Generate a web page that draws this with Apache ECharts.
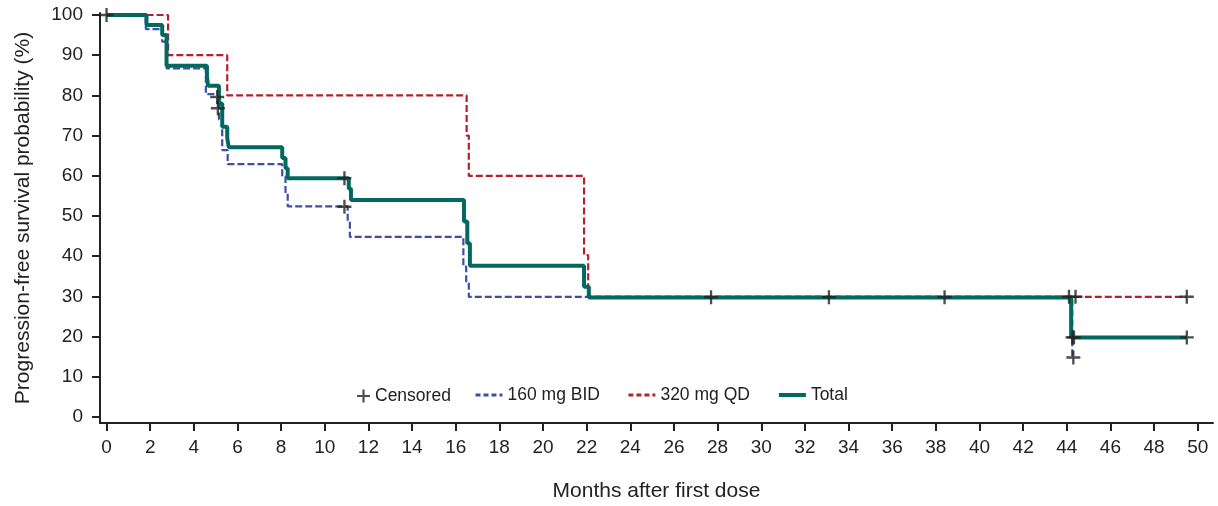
<!DOCTYPE html>
<html>
<head>
<meta charset="utf-8">
<script src="https://cdn.jsdelivr.net/npm/echarts@6/dist/echarts.min.js"></script>
<style>html,body{margin:0;padding:0;background:#fff}#c{width:1218px;height:506px}</style>
</head>
<body>
<div id="c"></div>
<script>
// Kaplan-Meier step points [month, survival %]
const totalSteps = [[0,100],[1.83,97.5],[2.55,95],[2.75,87.4],[4.6,84.8],[4.65,82.4],[5.15,78],[5.3,72.2],[5.53,69.4],[5.6,67.1],[8.05,64.4],[8.2,61.9],[8.3,59.4],[11.1,56.8],[11.2,54],[16.38,48.6],[16.53,43.2],[16.65,37.6],[21.88,32.4],[22.1,29.7],[44.2,19.8],[49.5,19.8]];
const bidSteps = [[0,100],[1.8,96.5],[2.55,93.4],[2.75,86.7],[4.55,80.3],[5.15,74],[5.3,66.4],[5.55,62.9],[8.05,59.8],[8.2,55.6],[8.3,52.4],[11.05,48.6],[11.15,44.8],[16.35,37.4],[16.48,33.7],[16.6,29.9],[44.25,14.8],[44.3,14.8]];
const qdSteps = [[0,100],[2.82,90],[5.53,80],[16.5,70],[16.6,60],[21.88,40.3],[22.07,29.9],[49.5,29.9]];
const censored = [[0,100],[5.07,79.6],[5.1,76.8],[10.9,59.4],[10.9,52.3],[27.7,29.8],[33.1,29.8],[38.4,29.8],[44.1,29.9],[44.4,29.9],[44.26,19.8],[44.33,19.8],[44.3,14.8],[49.5,29.9],[49.5,19.8]];
const xTicks = [0,2,4,6,8,10,12,14,16,18,20,22,24,26,28,30,32,34,36,38,40,42,44,46,48,50];
const yTicks = [0,10,20,30,40,50,60,70,80,90,100];

const FONT = 'Liberation Sans, Arial, sans-serif';
const AX = '#222';
const plus = 'path://M5,0H7V5H12V7H7V12H5V7H0V5H5Z';
const BLUE = '#3F4DA8', RED = '#B51F2E', GREEN = '#03695E';

const chart = echarts.init(document.getElementById('c'));
chart.setOption({
  animation: false,
  backgroundColor: '#fff',
  textStyle: {fontFamily: FONT},
  grid: {left: 100, right: 5, top: 13, bottom: 83, outerBoundsMode: 'none', containLabel: false},
  legend: [
    {data: ['Censored'], left: 352, top: 382, itemWidth: 13, itemHeight: 13, itemGap: 28,
     textStyle: {fontSize: 17.5, color: AX, fontFamily: FONT}},
    {data: [
       {name: '160 mg BID', lineStyle: {width: 3, type: [5, 3], color: BLUE}},
       {name: '320 mg QD', lineStyle: {width: 3, type: [5, 3], color: RED}},
       {name: 'Total', lineStyle: {width: 4, color: GREEN}}],
     left: 469, top: 381, itemWidth: 27, itemHeight: 14, itemGap: 27,
     itemStyle: {opacity: 0},
     textStyle: {fontSize: 17.5, color: AX, fontFamily: FONT}}
  ],
  xAxis: {
    type: 'value', min: -0.3, max: 50.7,
    name: 'Months after first dose', nameLocation: 'middle', nameGap: 58, nameMoveOverlap: false,
    nameTextStyle: {fontSize: 21, color: AX, fontFamily: FONT},
    axisLine: {show: true, onZero: false, lineStyle: {color: AX, width: 2}},
    axisTick: {show: true, length: 8, lineStyle: {color: AX, width: 2}, customValues: xTicks},
    axisLabel: {fontSize: 19, color: AX, margin: 15, customValues: xTicks, fontFamily: FONT},
    splitLine: {show: false}
  },
  yAxis: {
    type: 'value', min: -1.5, max: 100.5,
    name: 'Progression-free survival probability (%)', nameLocation: 'middle', nameGap: 66, nameRotate: 90, nameMoveOverlap: false,
    nameTextStyle: {fontSize: 21, color: AX, fontFamily: FONT},
    axisLine: {show: true, onZero: false, lineStyle: {color: AX, width: 2}},
    axisTick: {show: true, length: 8, lineStyle: {color: AX, width: 2}, customValues: yTicks},
    axisLabel: {fontSize: 19, color: AX, margin: 17, customValues: yTicks, fontFamily: FONT},
    splitLine: {show: false}
  },
  series: [
    {name: '160 mg BID', type: 'line', step: 'end', data: bidSteps, symbol: 'none', z: 2,
     itemStyle: {color: BLUE}, lineStyle: {color: BLUE, width: 2.2, type: [7, 3]}},
    {name: '320 mg QD', type: 'line', step: 'end', data: qdSteps, symbol: 'none', z: 3,
     itemStyle: {color: RED}, lineStyle: {color: RED, width: 2.2, type: [7, 3]}},
    {name: 'Total', type: 'line', step: 'end', data: totalSteps, symbol: 'none', z: 4,
     itemStyle: {color: GREEN}, lineStyle: {color: GREEN, width: 4}},
    {name: 'Censored', type: 'scatter', data: censored, symbol: plus, symbolSize: 14, z: 6,
     symbolKeepAspect: true, itemStyle: {color: '#222'}}
  ]
});
</script>
</body>
</html>
